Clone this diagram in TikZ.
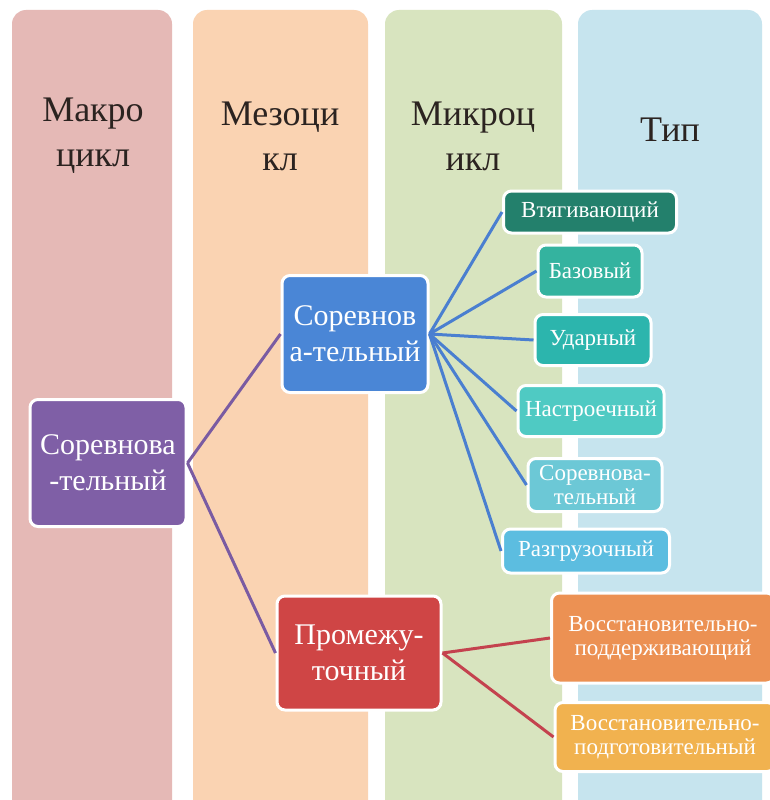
\documentclass[tikz,border=0pt]{standalone}
\usepackage{fontspec}
\setmainfont{Liberation Serif}
\usepackage{tikz}
\usetikzlibrary{positioning}
\definecolor{macrocol}{HTML}{E5B9B6}
\definecolor{mesocol}{HTML}{FAD3B2}
\definecolor{microcol}{HTML}{D8E4BF}
\definecolor{typecol}{HTML}{C6E4EE}
\definecolor{headtext}{HTML}{2B2320}
\definecolor{macrobox}{HTML}{7F5FA6}
\definecolor{compbox}{HTML}{4A86D6}
\definecolor{interbox}{HTML}{CF4545}
\definecolor{typeA}{HTML}{23806C}
\definecolor{typeB}{HTML}{34B39F}
\definecolor{typeC}{HTML}{2CB5AD}
\definecolor{typeD}{HTML}{4FCAC3}
\definecolor{typeE}{HTML}{6CC8D6}
\definecolor{typeF}{HTML}{5CBDE0}
\definecolor{typeG}{HTML}{EC9153}
\definecolor{typeH}{HTML}{F1B24F}
\definecolor{purpleline}{HTML}{7A5BA2}
\definecolor{blueline}{HTML}{4A7FD0}
\definecolor{redline}{HTML}{C4424E}
\tikzstyle{column}=[rounded corners=14pt]
\tikzstyle{header}=[text=headtext, align=center, font=\fontsize{36}{45}\selectfont]
\tikzstyle{block}=[draw=white, line width=3pt, rounded corners=8pt, text=white, align=center, inner sep=2pt, font=\fontsize{30}{36}\selectfont]
\tikzstyle{typebox}=[block, font=\fontsize{23}{24}\selectfont]
\tikzstyle{purpleedge}=[draw, line width=3pt, purpleline]
\tikzstyle{blueedge}=[draw, line width=3pt, blueline]
\tikzstyle{rededge}=[draw, line width=3pt, redline]

\begin{document}
\begin{tikzpicture}[x=1pt, y=-1pt]
    \clip (0,0) rectangle (770,800);
    \fill[white] (0,0) rectangle (770,800);
    % Columns in the background
    \foreach \xa/\xb/\col in {12/172/macrocol, 193/368/mesocol, 385/562/microcol, 578/762/typecol}
        \fill[column, \col] (\xa,10) rectangle (\xb,840);

    % Column headers
    \node[header] (hmacro) at (93,136) {Макро\\цикл};
    \node[header] (hmeso) at (280,136) {Мезоци\\кл};
    \node[header] (hmicro) at (473,136) {Микроц\\икл};
    \node[header] (htype) at (670,130) {Тип};

    % Cycle boxes
    \node[block, fill=macrobox, minimum width=156pt, minimum height=127pt] (macro) at (108,463) {Соревнова\\-тельный};
    \node[block, fill=compbox, minimum width=146pt, minimum height=117pt] (comp) at (355,334) {Соревнов\\а-тельный};
    \node[block, fill=interbox, minimum width=164pt, minimum height=114pt] (inter) at (359,653) {Промежу-\\точный};

    % Type boxes
    \foreach \pos/\name/\bw/\bh/\col/\txt in {
        {(590,212)/tA/173/42/typeA/{Втягивающий}},
        {(590,271)/tB/104/52/typeB/{Базовый}},
        {(593,340)/tC/116/51/typeC/{Ударный}},
        {(591,411)/tD/146/51/typeD/{Настроечный}},
        {(595,485)/tE/134/53/typeE/{Соревнова-\\тельный}},
        {(586,551)/tF/167/44/typeF/{Разгрузочный}},
        {(663,638)/tG/223/90/typeG/{Восстановительно-\\поддерживающий}},
        {(665,737)/tH/220/69/typeH/{Восстановительно-\\подготовительный}}}
        \node[typebox, fill=\col, minimum width=\bw pt, minimum height=\bh pt] (\name) at \pos {\txt};

    % Connectors
    \foreach \dest in {comp, inter}
        \path[purpleedge] (macro.east) -- (\dest.west);
    \foreach \dest in {tA, tB, tC, tD, tE, tF}
        \path[blueedge] (comp.east) -- (\dest.west);
    \foreach \dest in {tG, tH}
        \path[rededge] (inter.east) -- (\dest.west);
\end{tikzpicture}
\end{document}
